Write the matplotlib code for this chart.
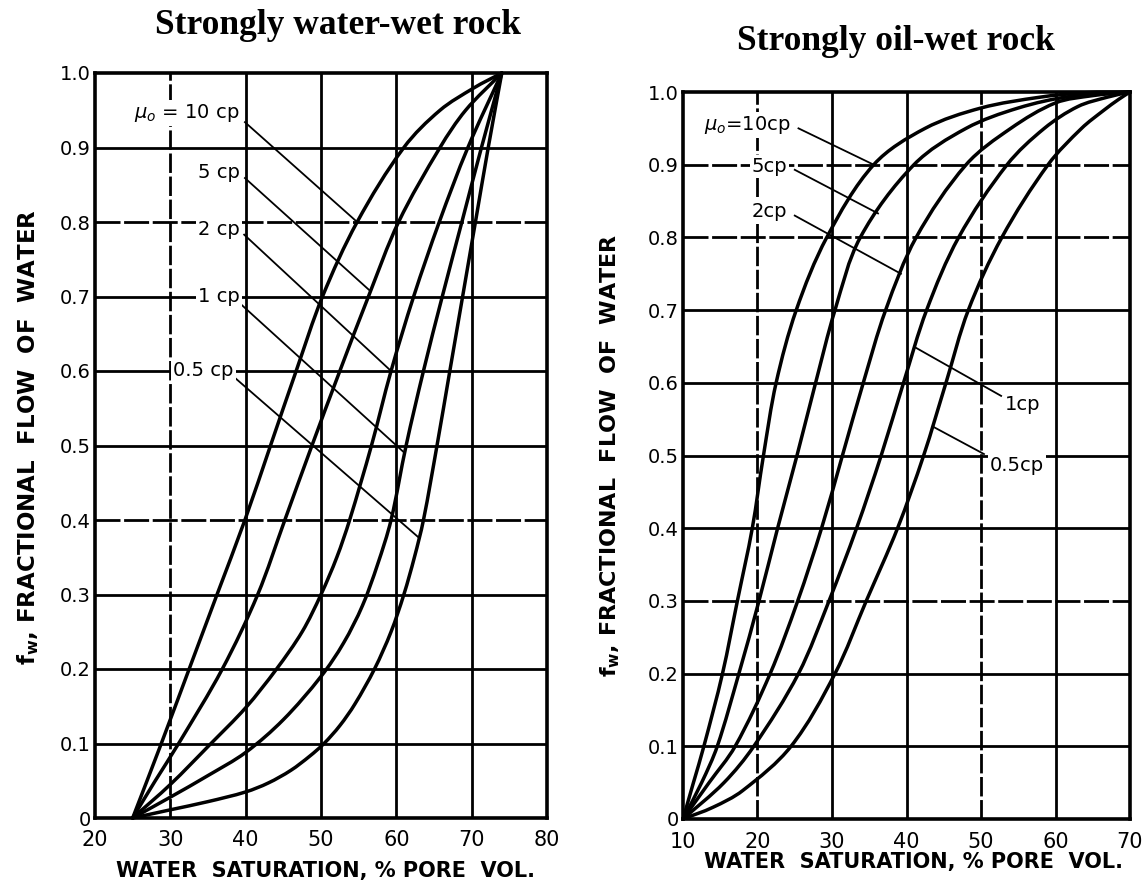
import numpy as np
import matplotlib
matplotlib.use("Agg")
import matplotlib.pyplot as plt
from matplotlib.path import Path
from matplotlib.patches import PathPatch

# ---------------- data: strongly water-wet rock ----------------
ww_labels = ["$\\mu_o$ = 10 cp", "5 cp", "2 cp", "1 cp", "0.5 cp"]
ww_10_sw = [25, 28.8, 32.5, 36.2, 39.9, 43.3, 46.7, 50.2, 54.8, 61.0, 65.8, 70.3, 74]
ww_10_fw = [0, 0.10, 0.20, 0.30, 0.40, 0.50, 0.60, 0.70, 0.80, 0.90, 0.95, 0.98, 1.0]
ww_5_sw = [25, 28.0, 31.1, 36.9, 41.6, 45.2, 48.8, 52.5, 56.3, 60.3, 65.8, 69.2, 74]
ww_5_fw = [0, 0.05, 0.10, 0.20, 0.30, 0.40, 0.50, 0.60, 0.70, 0.80, 0.90, 0.95, 1.0]
ww_2_sw = [25, 30.0, 35.2, 40.0, 44.1, 47.5, 50.0, 52.1, 53.8, 56.7, 59.3, 62.3, 65.7, 69.5, 74]
ww_2_fw = [0, 0.045, 0.098, 0.148, 0.20, 0.25, 0.30, 0.35, 0.40, 0.50, 0.60, 0.70, 0.80, 0.90, 1.0]
ww_1_sw = [25, 30.0, 35.0, 40.0, 45.0, 50.0, 53.0, 55.5, 57.5, 59.3, 61.3, 63.6, 66.1, 68.7, 71.3, 74]
ww_1_fw = [0, 0.028, 0.057, 0.088, 0.132, 0.19, 0.235, 0.285, 0.34, 0.40, 0.50, 0.60, 0.70, 0.80, 0.90, 1.0]
ww_05_sw = [25, 30.0, 35.0, 40.0, 43.0, 46.0, 48.5, 50.4, 52.5, 54.5, 57.1, 59.3, 61.0, 62.4, 63.6,
            65.4, 67.1, 68.8, 70.5, 72.2, 74]
ww_05_fw = [0, 0.011, 0.022, 0.035, 0.047, 0.064, 0.083, 0.10, 0.124, 0.153, 0.20, 0.25, 0.30, 0.35, 0.40,
            0.50, 0.60, 0.70, 0.80, 0.90, 1.0]

# ---------------- data: strongly oil-wet rock ----------------
ow_labels = ["$\\mu_o$=10cp", "5cp", "2cp", "1cp", "0.5cp"]
ow_10_sw = [10, 11.4, 12.8, 15.3, 17.3, 19.3, 20.8, 22.5, 25.2, 29.3, 35.6, 42.5, 50.0, 58.0, 64.0, 70]
ow_10_fw = [0, 0.05, 0.10, 0.20, 0.30, 0.40, 0.50, 0.60, 0.70, 0.80, 0.90, 0.95, 0.978, 0.993, 0.999, 1.0]
ow_5_sw = [10, 12.5, 14.6, 17.5, 20.2, 22.7, 25.3, 27.8, 30.4, 33.8, 41.0, 48.0, 55.0, 62.0, 70]
ow_5_fw = [0, 0.05, 0.10, 0.20, 0.30, 0.40, 0.50, 0.60, 0.70, 0.80, 0.90, 0.95, 0.978, 0.994, 1.0]
ow_2_sw = [10, 13.5, 17.0, 21.7, 25.4, 28.6, 31.4, 34.2, 37.2, 41.3, 48.0, 54.0, 60.0, 65.0, 70]
ow_2_fw = [0, 0.05, 0.10, 0.20, 0.30, 0.40, 0.50, 0.60, 0.70, 0.80, 0.90, 0.95, 0.985, 0.995, 1.0]
ow_1_sw = [10, 15.5, 19.5, 25.5, 29.6, 33.3, 36.6, 39.6, 42.7, 47.0, 53.5, 58.5, 63.0, 67.0, 70]
ow_1_fw = [0, 0.05, 0.10, 0.20, 0.30, 0.40, 0.50, 0.60, 0.70, 0.80, 0.90, 0.95, 0.98, 0.993, 1.0]
ow_05_sw = [10, 14.0, 18.0, 24.5, 30.4, 34.6, 38.8, 42.3, 45.3, 48.3, 52.8, 59.0, 63.5, 66.5, 68.5, 70]
ow_05_fw = [0, 0.016, 0.039, 0.10, 0.20, 0.30, 0.40, 0.50, 0.60, 0.70, 0.80, 0.90, 0.95, 0.975, 0.99, 1.0]

ww_xticks = [20, 30, 40, 50, 60, 70, 80]
ow_xticks = [10, 20, 30, 40, 50, 60, 70]
yticks = [0, 0.1, 0.2, 0.3, 0.4, 0.5, 0.6, 0.7, 0.8, 0.9, 1.0]
ytick_labels = ["0", "0.1", "0.2", "0.3", "0.4", "0.5", "0.6", "0.7", "0.8", "0.9", "1.0"]

ww_curves = [(ww_10_sw, ww_10_fw), (ww_5_sw, ww_5_fw), (ww_2_sw, ww_2_fw),
             (ww_1_sw, ww_1_fw), (ww_05_sw, ww_05_fw)]
ow_curves = [(ow_10_sw, ow_10_fw), (ow_5_sw, ow_5_fw), (ow_2_sw, ow_2_fw),
             (ow_1_sw, ow_1_fw), (ow_05_sw, ow_05_fw)]

# grid lines that look dashed (broken) in the scanned original
ww_dashed_x = [30]
ww_dashed_y = [0.8, 0.4]
ow_dashed_x = [20, 50]
ow_dashed_y = [0.9, 0.8, 0.3]

# annotation layout: (text x, text y, ha, leader start x, leader start y, leader end fw)
ww_ann = [(39.2, 0.946, "right", 39.9, 0.934, 0.800),
          (39.2, 0.867, "right", 39.9, 0.859, 0.707),
          (39.2, 0.790, "right", 39.8, 0.783, 0.600),
          (39.2, 0.700, "right", 39.0, 0.693, 0.490),
          (38.4, 0.600, "right", 38.1, 0.595, 0.376)]
ow_ann = [(24.5, 0.955, "right", 25.5, 0.950, 0.900),
          (24.0, 0.898, "right", 25.0, 0.893, 0.833),
          (24.0, 0.835, "right", 25.0, 0.830, 0.750),
          (53.2, 0.570, "left", 52.7, 0.582, 0.649),
          (51.2, 0.486, "left", 50.4, 0.502, 0.540)]

fig = plt.figure(figsize=(11.42, 8.82), dpi=100)
ax1 = fig.add_axes([95 / 1142, 1 - 818 / 882, 452 / 1142, 745 / 882])
ax2 = fig.add_axes([683 / 1142, 1 - 819 / 882, 447 / 1142, 727 / 882])


def smooth_path(ax, xs, ys, xlim):
    """Bezier path through the read points (tangents from neighbours)."""
    bb = ax.get_position()
    W = bb.width * 1142.0
    H = bb.height * 882.0
    x0, x1 = xlim
    P = np.column_stack([(np.asarray(xs) - x0) / (x1 - x0) * W, np.asarray(ys) * H])
    n = len(P)
    T = np.zeros_like(P)
    for i in range(n):
        if i == 0:
            d = P[1] - P[0]
        elif i == n - 1:
            d = P[-1] - P[-2]
        else:
            d = P[i + 1] - P[i - 1]
        T[i] = d / np.hypot(*d)
    verts = [P[0]]
    codes = [Path.MOVETO]
    for i in range(n - 1):
        seg = np.hypot(*(P[i + 1] - P[i]))
        verts += [P[i] + T[i] * seg / 3.0, P[i + 1] - T[i + 1] * seg / 3.0, P[i + 1]]
        codes += [Path.CURVE4] * 3
    V = np.array(verts)
    V[:, 0] = V[:, 0] / W * (x1 - x0) + x0
    V[:, 1] = V[:, 1] / H
    return Path(V, codes)


def draw(ax, curves, ann, labels, xlim, xticks, dx, dy):
    ax.set_xlim(*xlim)
    ax.set_ylim(0, 1.0)
    ax.set_xticks(xticks)
    ax.set_xticklabels([str(t) for t in xticks], fontsize=15)
    ax.set_yticks(yticks)
    ax.set_yticklabels(ytick_labels, fontsize=14)
    ax.tick_params(length=0)
    ax.tick_params(axis="x", pad=9)
    ax.tick_params(axis="y", pad=3)
    for xv in xticks[1:-1]:
        if xv in dx:
            ax.axvline(xv, color="black", linewidth=2.0, dashes=(7, 1.3), zorder=1)
        else:
            ax.axvline(xv, color="black", linewidth=2.0, zorder=1)
    for yv in yticks[1:-1]:
        if yv in dy:
            ax.axhline(yv, color="black", linewidth=2.0, dashes=(9, 1.3), zorder=1)
        else:
            ax.axhline(yv, color="black", linewidth=2.0, zorder=1)
    for s in ax.spines.values():
        s.set_linewidth(2.6)
        s.set_color("black")
    for (sw, fw) in curves:
        pth = smooth_path(ax, sw, fw, xlim)
        ax.add_patch(PathPatch(pth, facecolor="none", edgecolor="black",
                               linewidth=2.5, capstyle="round", joinstyle="round",
                               zorder=3, clip_on=False))
    for (lab, a, (sw, fw)) in zip(labels, ann, curves):
        tx, ty, ha, lx, ly, ey = a
        ex = np.interp(ey, fw, sw)
        ax.plot([lx, ex], [ly, ey], color="black", linewidth=1.3, zorder=4)
        ax.text(tx, ty, lab, ha=ha, va="center", fontsize=14, zorder=5,
                bbox=dict(facecolor="white", edgecolor="none", pad=1.5))


draw(ax1, ww_curves, ww_ann, ww_labels, (20, 80), ww_xticks, ww_dashed_x, ww_dashed_y)
draw(ax2, ow_curves, ow_ann, ow_labels, (10, 70), ow_xticks, ow_dashed_x, ow_dashed_y)

title_font = dict(family="Liberation Serif", fontweight="bold", fontsize=25.5)
fig.text(338 / 1142, 1 - 26 / 882, "Strongly water-wet rock", ha="center", va="center", **title_font)
fig.text(896 / 1142, 1 - 42 / 882, "Strongly oil-wet rock", ha="center", va="center", **title_font)

lab_font = dict(fontsize=15, fontweight="bold")
ylab = "f$_\\mathregular{w}$, FRACTIONAL  FLOW  OF  WATER"
fig.text(28 / 1142, 1 - 437 / 882, ylab, rotation=90, ha="center", va="center",
         fontsize=16.5, fontweight="bold")
fig.text(610 / 1142, 1 - 455 / 882, ylab, rotation=90, ha="center", va="center",
         fontsize=16, fontweight="bold")
fig.text(326 / 1142, 1 - 871 / 882, "WATER  SATURATION, % PORE  VOL.", ha="center", va="center", **lab_font)
fig.text(914 / 1142, 1 - 862 / 882, "WATER  SATURATION, % PORE  VOL.", ha="center", va="center", **lab_font)

fig.savefig("out.png", dpi=100, facecolor="white")
